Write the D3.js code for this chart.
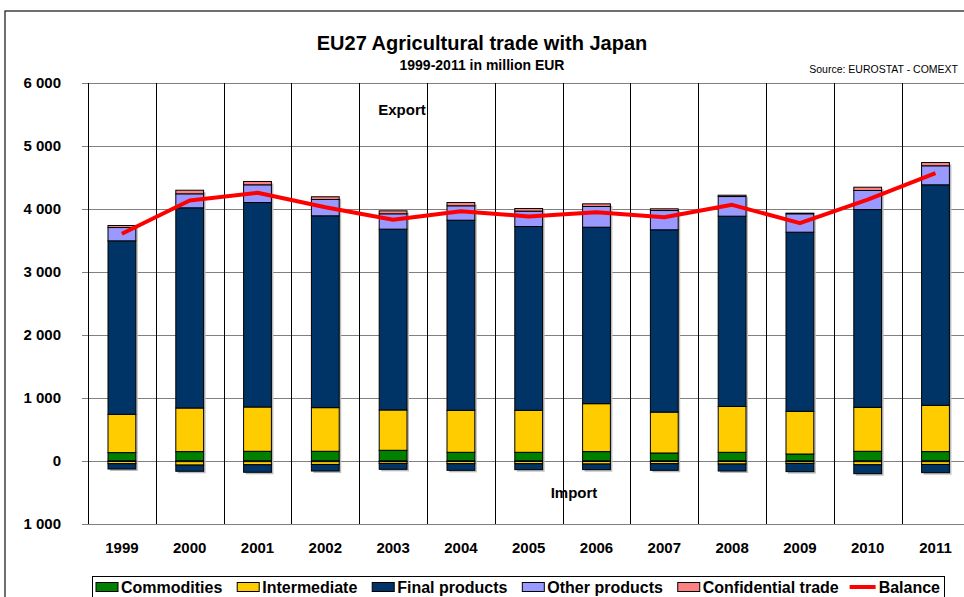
<!DOCTYPE html>
<html>
<head>
<meta charset="utf-8">
<script src="https://cdn.jsdelivr.net/npm/d3@7"></script>
<style>
  body { margin: 0; background: #fff; }
  svg { display: block; font-family: Arial, "Liberation Sans", sans-serif; }
</style>
</head>
<body>
<script>
const years = ['1999', '2000', '2001', '2002', '2003', '2004', '2005', '2006', '2007', '2008', '2009', '2010', '2011'];

// exports (million EUR)
const expCommodities = [133, 149, 154, 154, 170, 138, 138, 149, 127, 138, 111, 154, 149];
const expIntermediate = [608, 692, 703, 693, 640, 667, 667, 761, 649, 728, 678, 698, 735];
const expFinal = [2754, 3178, 3246, 3045, 2870, 3017, 2917, 2801, 2894, 3020, 2843, 3140, 3500];
const expOther = [211, 222, 281, 259, 244, 229, 244, 329, 306, 312, 292, 302, 302];
const expConfidential = [32, 57, 53, 43, 47, 52, 42, 42, 27, 21, 10, 52, 52];

// imports (negative)
const impCommodities = [-8, -10, -10, -10, -8, -8, -8, -8, -8, -8, -8, -10, -10];
const impIntermediate = [-35, -55, -50, -45, -30, -35, -35, -40, -35, -40, -30, -50, -45];
const impFinal = [-84, -98, -119, -104, -94, -105, -94, -89, -105, -111, -131, -141, -130];

const balance = [3606, 4135, 4257, 4029, 3829, 3966, 3881, 3950, 3870, 4066, 3775, 4150, 4568];

const yTicks = [-1000, 0, 1000, 2000, 3000, 4000, 5000, 6000];

const keys = ['commodities', 'intermediate', 'final', 'other', 'confidential'];
const labels = ['Commodities', 'Intermediate', 'Final products', 'Other products', 'Confidential trade'];
const colors = ['#008000', '#FFCC00', '#003366', '#9999FF', '#FF8080'];

let expRows = years.map((y, i) => ({
    year: y, commodities: expCommodities[i], intermediate: expIntermediate[i],
    final: expFinal[i], other: expOther[i], confidential: expConfidential[i]
}));
let impRows = years.map((y, i) => ({
    year: y, commodities: impCommodities[i], intermediate: impIntermediate[i],
    final: impFinal[i], other: 0, confidential: 0
}));

const W = 964, H = 597;
const left = 88, step = 67.8;

let svg = d3.select('body').append('svg')
    .attr('width', W)
    .attr('height', H);

// chart frame
svg.append('rect')
    .attr('x', 5).attr('y', 11)
    .attr('width', 1000).attr('height', 700)
    .attr('fill', 'none')
    .attr('stroke', '#222')
    .attr('stroke-width', 1.3);

let x = d3.scaleBand()
    .domain(years)
    .range([left, left + step * years.length])
    .padding(0.59)
    .paddingOuter(0.295);

let y = d3.scaleLinear()
    .domain([-1000, 6000])
    .range([524, 83]);

// horizontal gridlines
svg.append('g')
    .selectAll('line')
    .data(yTicks)
    .enter()
    .append('line')
    .attr('x1', left - 6)
    .attr('x2', W)
    .attr('y1', d => Math.round(y(d)) + 0.5)
    .attr('y2', d => Math.round(y(d)) + 0.5)
    .attr('stroke', '#808080')
    .attr('stroke-width', 1);

// vertical gridlines at category borders
svg.append('g')
    .selectAll('line')
    .data(d3.range(years.length + 1))
    .enter()
    .append('line')
    .attr('x1', i => Math.round(left + i * step) + 0.5)
    .attr('x2', i => Math.round(left + i * step) + 0.5)
    .attr('y1', y(6000))
    .attr('y2', y(-1000))
    .attr('stroke', '#000')
    .attr('stroke-width', 1);

// y labels
svg.append('g')
    .selectAll('text')
    .data(yTicks)
    .enter()
    .append('text')
    .attr('x', 61)
    .attr('y', d => y(d) + 5)
    .attr('text-anchor', 'end')
    .attr('font-size', 15)
    .attr('font-weight', 'bold')
    .text(d => d3.format(',')(Math.abs(d)).replace(/,/g, ' '));

// x labels
svg.append('g')
    .selectAll('text')
    .data(years)
    .enter()
    .append('text')
    .attr('x', d => x(d) + x.bandwidth() / 2)
    .attr('y', 553)
    .attr('text-anchor', 'middle')
    .attr('font-size', 15)
    .attr('font-weight', 'bold')
    .text(d => d);

let expStack = d3.stack().keys(keys)(expRows);
let impStack = d3.stack().keys(keys).offset(d3.stackOffsetDiverging)(impRows);

/**
 * draw one stack of bars
 */
function drawStack(series) {
    let g = svg.append('g');
    series.forEach((s, k) => {
        g.selectAll(null)
            .data(s.filter(d => d[1] !== d[0]))
            .enter()
            .append('rect')
            .attr('x', d => x(d.data.year))
            .attr('width', x.bandwidth())
            .attr('y', d => y(Math.max(d[0], d[1])))
            .attr('height', d => Math.abs(y(d[0]) - y(d[1])))
            .attr('fill', colors[k])
            .attr('stroke', '#000')
            .attr('stroke-width', 1);
    });
}

// light shadow behind the bars
svg.append('g')
    .selectAll('rect')
    .data(years)
    .enter()
    .append('rect')
    .attr('x', (d) => x(d) + 2)
    .attr('width', x.bandwidth())
    .attr('y', (d, i) => y(expStack[4][i][1]) + 2)
    .attr('height', (d, i) => y(impStack[2][i][0]) - y(expStack[4][i][1]))
    .attr('fill', '#bbb');

drawStack(expStack);
drawStack(impStack);

// balance line
let line = d3.line()
    .x((d, i) => x(years[i]) + x.bandwidth() / 2)
    .y(d => y(d));

svg.append('path')
    .datum(balance)
    .attr('d', line)
    .attr('fill', 'none')
    .attr('stroke', '#FF0000')
    .attr('stroke-width', 4)
    .attr('stroke-linejoin', 'round');

// titles
svg.append('text')
    .attr('x', 482).attr('y', 50)
    .attr('text-anchor', 'middle')
    .attr('font-size', 20).attr('font-weight', 'bold')
    .text('EU27 Agricultural trade with Japan');
svg.append('text')
    .attr('x', 482).attr('y', 70)
    .attr('text-anchor', 'middle')
    .attr('font-size', 14).attr('font-weight', 'bold')
    .text('1999-2011 in million EUR');
svg.append('text')
    .attr('x', 958).attr('y', 73)
    .attr('text-anchor', 'end')
    .attr('font-size', 10.5)
    .text('Source: EUROSTAT - COMEXT');

svg.append('text')
    .attr('x', 402).attr('y', 115)
    .attr('text-anchor', 'middle')
    .attr('font-size', 15).attr('font-weight', 'bold')
    .text('Export');
svg.append('text')
    .attr('x', 574).attr('y', 498)
    .attr('text-anchor', 'middle')
    .attr('font-size', 15).attr('font-weight', 'bold')
    .text('Import');

// legend
let legendX0 = 92, legendX1 = 944;
let lg = svg.append('g');
lg.append('rect')
    .attr('x', legendX0 + 0.5).attr('y', 576.5)
    .attr('width', legendX1 - legendX0).attr('height', 30)
    .attr('fill', '#fff')
    .attr('stroke', '#000');

let items = labels.map((l, i) => ({ label: l, color: colors[i], type: 'rect' }));
items.push({ label: 'Balance', color: '#FF0000', type: 'line' });

let swW = 22, swGap = 3;
let texts = items.map(it => lg.append('text')
    .attr('y', 593)
    .attr('font-size', 16).attr('font-weight', 'bold')
    .text(it.label));
let widths = texts.map(t => t.node().getComputedTextLength());
let pad = 4;
let totalW = d3.sum(widths) + items.length * (swW + swGap);
let gap = (legendX1 - legendX0 - 2 * pad - totalW) / (items.length - 1);
let cx = legendX0 + pad;
items.forEach((it, i) => {
    if (it.type === 'rect') {
        lg.append('rect')
            .attr('x', cx).attr('y', 582.5)
            .attr('width', swW).attr('height', 9)
            .attr('fill', it.color)
            .attr('stroke', '#000');
    } else {
        lg.append('line')
            .attr('x1', cx - 4).attr('x2', cx + swW)
            .attr('y1', 587).attr('y2', 587)
            .attr('stroke', it.color)
            .attr('stroke-width', 4);
    }
    texts[i].attr('x', cx + swW + swGap);
    cx += swW + swGap + widths[i] + gap;
});
</script>
</body>
</html>
